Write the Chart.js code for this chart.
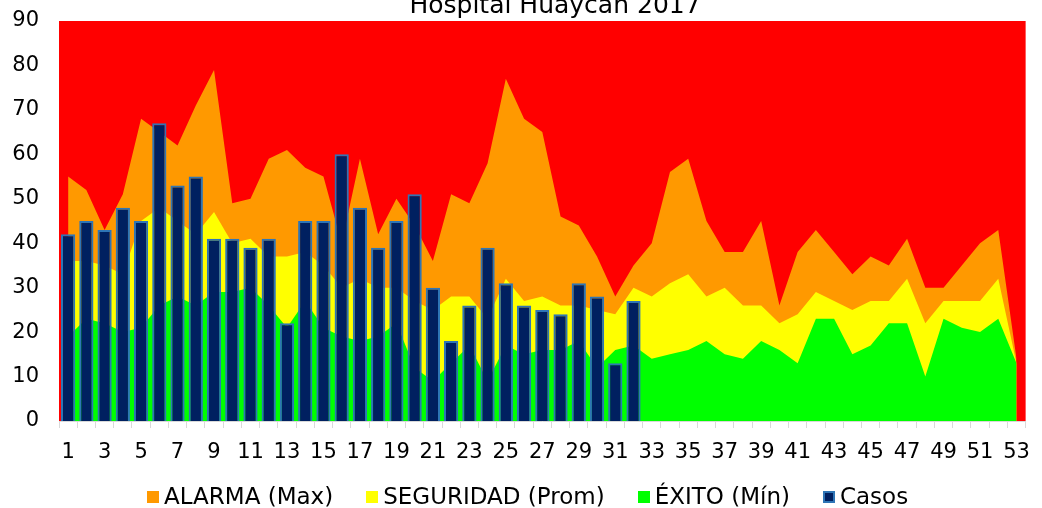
<!DOCTYPE html>
<html>
<head>
<meta charset="utf-8">
<script src="https://cdn.jsdelivr.net/npm/chart.js"></script>
<style>
  body { margin: 0; background: #fff; }
  #wrap { position: relative; width: 1042px; height: 508px; }
  #legend { position: absolute; left: 147px; top: 485px; display: flex; gap: 33px;
            font: 23px "DejaVu Sans"; line-height: 23px; color: #000; white-space: nowrap; }
  #legend .item { display: flex; align-items: center; }
  #legend .box { width: 12px; height: 12px; margin-right: 5px; box-sizing: border-box; }
</style>
</head>
<body>
<div id="wrap">
  <canvas id="canal"></canvas>
  <div id="legend"></div>
</div>
<script>
// semanas epidemiologicas
const semanas = ["1","2","3","4","5","6","7","8","9","10","11","12","13","14","15","16","17","18",
  "19","20","21","22","23","24","25","26","27","28","29","30","31","32","33","34","35","36",
  "37","38","39","40","41","42","43","44","45","46","47","48","49","50","51","52","53"];

const alarma = [55,52,43,51,68,65,62,71,79,49,50,59,61,57,55,40,59,42,50,44,36,51,49,58,77,68,65,
  46,44,37,28,35,40,56,59,45,38,38,45,26,38,43,38,33,37,35,41,30,30,35,40,43,14];

const seguridad = [36,36,35,33,45,48,45,42,47,40,41,37,37,38,35,30,32,30,30,27,25,28,28,23,32,27,28,
  26,26,25,24,30,28,31,33,28,30,26,26,22,24,29,27,25,27,27,32,22,27,27,27,32,13];

const exito = [19,23,22,20,21,26,28,26,29,29,30,26,21,27,21,19,18,19,22,12,9,13,17,9,17,15,16,
  16,18,12,16,17,14,15,16,18,15,14,18,16,13,23,23,15,17,22,22,10,23,21,20,23,13];

const casos = [42,45,43,48,45,67,53,55,41,41,39,41,22,45,45,60,48,39,45,51,30,18,26,39,31,26,25,
  24,31,28,13,27,null,null,null,null,null,null,null,null,null,null,null,null,null,null,null,
  null,null,null,null,null,null];

const titulo = "Hospital Huaycan 2017";

// zona epidemica (rojo) = fondo del area del grafico
const fondoRojo = {
  id: 'fondoRojo',
  beforeDraw(chart) {
    const a = chart.chartArea;
    const ctx = chart.ctx;
    ctx.save();
    ctx.fillStyle = '#FF0000';
    ctx.fillRect(a.left, a.top, a.right - a.left, a.bottom - a.top);
    ctx.restore();
  }
};

const tituloCortado = {
  id: 'tituloCortado',
  afterDraw(chart) {
    const ctx = chart.ctx;
    ctx.save();
    ctx.font = '25px "DejaVu Sans"';
    ctx.fillStyle = '#000';
    ctx.textAlign = 'center';
    ctx.textBaseline = 'alphabetic';
    ctx.fillText(titulo, 555, 13);
    ctx.restore();
  }
};

function area(label, data, color, order) {
  return {
    type: 'line',
    label: label,
    data: data,
    backgroundColor: color,
    borderWidth: 0,
    pointRadius: 0,
    tension: 0,
    fill: 'origin',
    order: order
  };
}

const ctx = document.getElementById('canal').getContext('2d');
const chart = new Chart(ctx, {
  data: {
    labels: semanas,
    datasets: [
      area('ALARMA (Max)', alarma, '#FF9900', 3),
      area('SEGURIDAD (Prom)', seguridad, '#FFFF00', 2),
      area('ÉXITO (Mín)', exito, '#00FF00', 1),
      {
        type: 'bar',
        label: 'Casos',
        data: casos,
        backgroundColor: '#002060',
        borderColor: '#2E75B6',
        borderWidth: 2,
        barPercentage: 0.78,
        categoryPercentage: 1,
        order: 0
      }
    ]
  },
  options: {
    responsive: true,
    maintainAspectRatio: false,
    animation: false,
    layout: { padding: { top: 21, right: 14, left: 0, bottom: 0 } },
    plugins: {
      legend: { display: false },
      title: { display: false },
      tooltip: { enabled: false }
    },
    scales: {
      x: {
        offset: true,
        grid: { drawOnChartArea: false, drawTicks: true, tickLength: 7, color: '#D9D9D9', offset: true },
        border: { color: '#D9D9D9', width: 1 },
        ticks: {
          autoSkip: false,
          maxRotation: 0,
          padding: 12,
          color: '#000',
          font: { family: 'DejaVu Sans', size: 21 },
          callback: function (val, i) { return i % 2 === 0 ? this.getLabelForValue(val) : ''; }
        },
        afterFit(scale) { scale.height = 87; }
      },
      y: {
        min: 0,
        max: 90,
        grid: { display: false, drawTicks: false },
        border: { display: false },
        ticks: {
          stepSize: 10,
          padding: 20,
          color: '#000',
          font: { family: 'DejaVu Sans', size: 21 }
        },
        afterFit(scale) {
          scale.width = 59;
          scale.paddingTop = 0;
          scale.paddingBottom = 0;
        }
      }
    }
  },
  plugins: [fondoRojo, tituloCortado]
});

// leyenda
const leyenda = document.getElementById('legend');
chart.data.datasets.forEach(function (ds) {
  const item = document.createElement('div');
  item.className = 'item';
  const box = document.createElement('span');
  box.className = 'box';
  box.style.background = ds.backgroundColor;
  if (ds.type === 'bar') box.style.border = '2px solid ' + ds.borderColor;
  const txt = document.createElement('span');
  txt.textContent = ds.label;
  item.appendChild(box);
  item.appendChild(txt);
  leyenda.appendChild(item);
});
</script>
</body>
</html>
